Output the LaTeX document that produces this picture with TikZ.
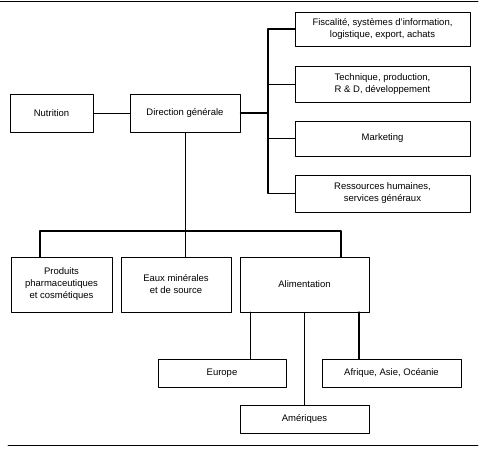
\documentclass[tikz,border=0pt]{standalone}
\usepackage{fontspec}
\setmainfont{Liberation Sans}
\usepackage{tikz}
\tikzstyle{every node}=[font=\fontsize{9.5}{12}\selectfont]
\tikzset{
  orgbox/.style={draw,line width=0.8pt,align=center,inner sep=1pt},
  link/.style={line width=0.8pt},
  biglink/.style={line width=1.3pt}
}

\begin{document}
\begin{tikzpicture}[line cap=round,line join=round,x=1pt,y=-1pt]
            \useasboundingbox (0,0) rectangle (491,462);
            % rules at top and bottom
            \draw [line width=0.8pt] (0,1) -- (478,1);
            \draw [line width=0.8pt] (8,445) -- (478,445);
            % top level
            \node[orgbox,minimum width=83pt,minimum height=38pt] (nut) at (51.5,113) {Nutrition};
            \node[orgbox,minimum width=110pt,minimum height=38pt] (dir) at (185,113) {Direction générale};
            % services
            \node[orgbox,minimum width=175pt,minimum height=34pt] (fis) at (382.5,29) {Fiscalité, systèmes d'information,\\logistique, export, achats};
            \node[orgbox,minimum width=175pt,minimum height=36pt] (tech) at (382.5,84) {Technique, production,\\R \& D, développement};
            \node[orgbox,minimum width=175pt,minimum height=35pt] (mkt) at (382.5,138.5) {Marketing};
            \node[orgbox,minimum width=175pt,minimum height=37pt] (res) at (382.5,193.5) {Ressources humaines,\\services généraux};
            % branches
            \node[orgbox,minimum width=101pt,minimum height=55pt] (prod) at (61.5,284.5) {Produits\\pharmaceutiques\\et cosmétiques};
            \node[orgbox,minimum width=110pt,minimum height=55pt] (eaux) at (176,284.5) {Eaux minérales\\et de source};
            \node[orgbox,minimum width=129pt,minimum height=55pt] (alim) at (304.5,284.5) {Alimentation};
            % zones
            \node[orgbox,minimum width=128pt,minimum height=28pt] (eur) at (222,373) {Europe};
            \node[orgbox,minimum width=139pt,minimum height=28pt] (afr) at (391.5,373) {Afrique, Asie, Océanie};
            \node[orgbox,minimum width=129pt,minimum height=28pt] (ame) at (304.5,419) {Amériques};
            % connectors
            \coordinate (bus) at (268,113);
            \coordinate (hubl) at (40,231);
            \coordinate (hubr) at (341,231);
            \coordinate (eurx) at (250,312);
            \coordinate (afrx) at (359,312);
            \draw [link] (nut) -- (dir);
            \draw [biglink] (dir.east) -- (bus);
            \draw [biglink] (fis.west) -| (bus) |- (res.west);
            \draw [link] (tech.west) -- (tech.west -| bus);
            \draw [link] (mkt.west) -- (mkt.west -| bus);
            \draw [link] (dir.south) -- (dir.south |- eaux.north);
            \draw [biglink] (hubl |- prod.north) -- (hubl) -- (hubr) -- (hubr |- alim.north);
            \draw [link] (eurx) -- (eurx |- eur.north);
            \draw [link] (alim.south) -- (ame.north);
            \draw [biglink] (afrx) -- (afrx |- afr.north);
\end{tikzpicture}
\end{document}
